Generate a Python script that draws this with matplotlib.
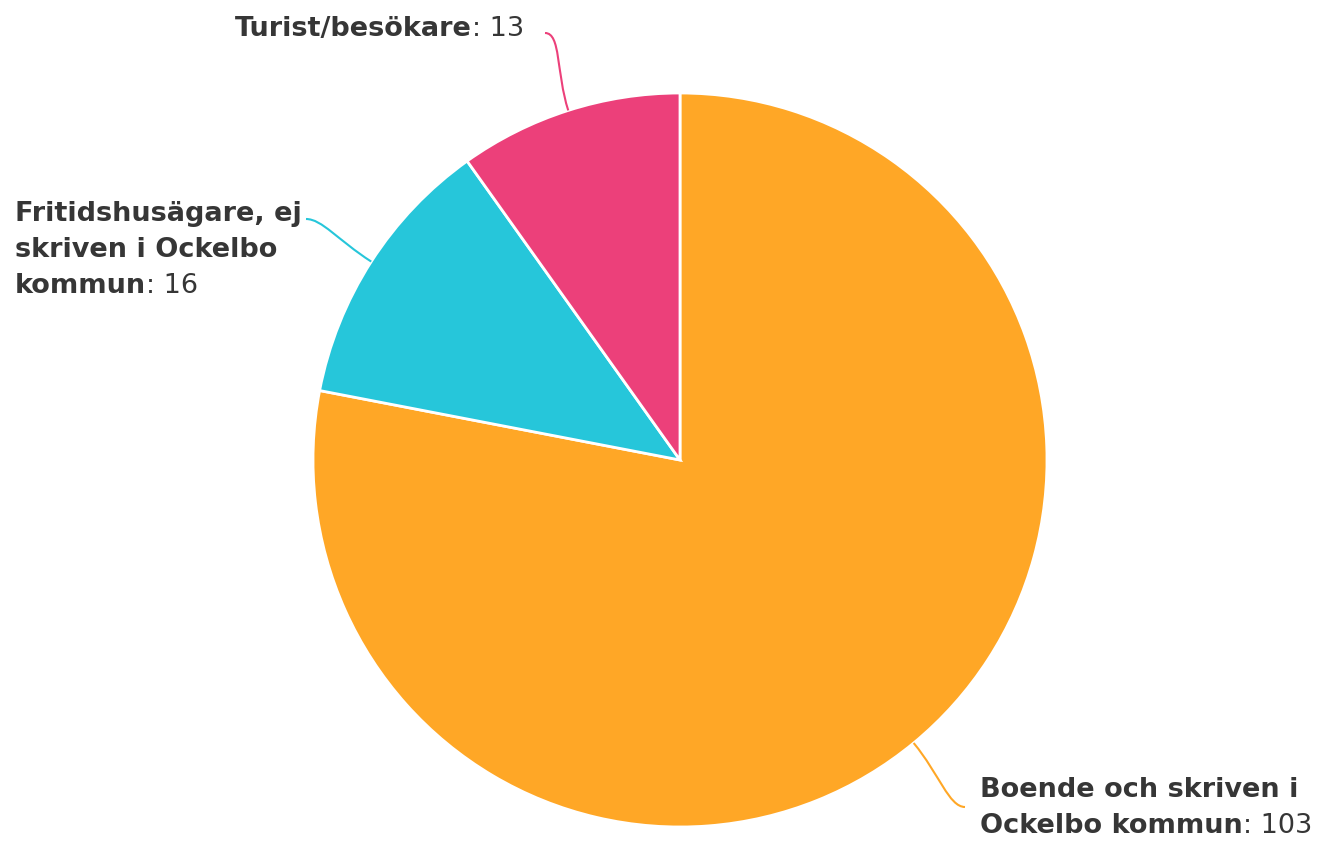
import numpy as np
import matplotlib.pyplot as plt
from matplotlib.path import Path
from matplotlib.patches import PathPatch

# Data
names = ["Boende och skriven i\nOckelbo kommun",
         "Fritidshusägare, ej\nskriven i Ockelbo\nkommun",
         "Turist/besökare"]
values = [103, 16, 13]
colors = ["#FFA726", "#26C6DA", "#EC407A"]

# label layout (pixel coords, y from top): left x, first baseline y, connector end
label_pos = [(980, 797), (15, 221), (235, 36)]
conn_end = [(965, 807), (306, 219), (545, 33)]

W, H = 1318, 849
cx, cy, r = 680, 460, 367
text_color = "#363636"
fsize = 19.5
line_step = 36

fig = plt.figure(figsize=(W / 100, H / 100), dpi=100)
ax = fig.add_axes([0, 0, 1, 1])

wedges, _ = ax.pie(values, colors=colors, startangle=90, counterclock=False,
                   center=(cx, H - cy), radius=r,
                   wedgeprops=dict(edgecolor="white", linewidth=2))
ax.set_xlim(0, W)
ax.set_ylim(0, H)
ax.set_aspect("auto")
ax.axis("off")

renderer = fig.canvas.get_renderer()

for i, w in enumerate(wedges):
    # connector from the middle of the wedge edge to the label
    theta = np.deg2rad((w.theta1 + w.theta2) / 2)
    ex = cx + r * np.cos(theta)
    ey = (H - cy) + r * np.sin(theta)
    ax_, ay_ = conn_end[i]
    ay_ = H - ay_
    side = -1 if ax_ > cx else 1
    p1 = (ex + 40 * np.cos(theta), ey + 40 * np.sin(theta))
    p2 = (ax_ + side * 16, ay_)
    path = Path([(ex, ey), p1, p2, (ax_, ay_)],
                [Path.MOVETO, Path.CURVE4, Path.CURVE4, Path.CURVE4])
    ax.add_patch(PathPatch(path, facecolor="none", edgecolor=colors[i], lw=1.5))

    # label: bold name lines, regular ": value" after the last line
    lx, ly = label_pos[i]
    lines = names[i].split("\n")
    for j, line in enumerate(lines):
        t = ax.text(lx, H - (ly + j * line_step), line, fontsize=fsize,
                    fontweight="bold", color=text_color, ha="left", va="baseline")
    bb = t.get_window_extent(renderer=renderer)
    x_end = ax.transData.inverted().transform((bb.x1, bb.y0))[0]
    ax.text(x_end, H - (ly + (len(lines) - 1) * line_step), f": {values[i]}",
            fontsize=fsize, color=text_color, ha="left", va="baseline")

fig.savefig("out.png", dpi=100)
